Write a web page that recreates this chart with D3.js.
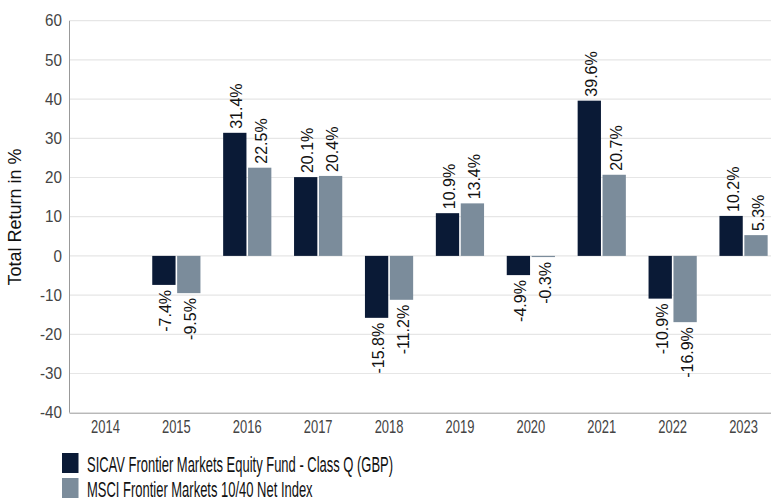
<!DOCTYPE html>
<html>
<head>
<meta charset="utf-8">
<script src="https://cdn.jsdelivr.net/npm/d3@7"></script>
<style>
  body { margin: 0; background: #fff; }
  svg { font-family: Arial, "Liberation Sans", sans-serif; }
</style>
</head>
<body>
<svg id="chart"></svg>
<script>
const years = ['2014', '2015', '2016', '2017', '2018', '2019', '2020', '2021', '2022', '2023'];
const fundValues = [null, -7.4, 31.4, 20.1, -15.8, 10.9, -4.9, 39.6, -10.9, 10.2];
const indexValues = [null, -9.5, 22.5, 20.4, -11.2, 13.4, -0.3, 20.7, -16.9, 5.3];
const seriesNames = ['SICAV Frontier Markets Equity Fund - Class Q (GBP)', 'MSCI Frontier Markets 10/40 Net Index'];
const yTicks = [-40, -30, -20, -10, 0, 10, 20, 30, 40, 50, 60];

const colors = ['#0a1a36', '#7b8c9b'];
const width = 771, height = 499;
const margin = {top: 20.7, left: 70, bottom: 86.3};

const svg = d3.select('#chart').attr('width', width).attr('height', height);

const x = d3.scaleBand().domain(years).range([margin.left, 779]);
const y = d3.scaleLinear().domain([-40, 60]).range([height - margin.bottom, margin.top]);
const barW = 23.3, gap = 1.6;

// gridlines
svg.append('g').selectAll('line')
  .data(yTicks.filter(t => t !== -40))
  .join('line')
  .attr('x1', margin.left).attr('x2', width)
  .attr('y1', d => y(d)).attr('y2', d => y(d))
  .attr('stroke', '#e6e6e6').attr('stroke-width', 1.2);

// y tick labels
svg.append('g').selectAll('text')
  .data(yTicks)
  .join('text')
  .attr('transform', d => `translate(62,${y(d)}) scale(0.95,1)`)
  .attr('dy', '0.36em')
  .attr('text-anchor', 'end')
  .attr('font-size', 16)
  .attr('fill', '#444')
  .text(d => d);

// x tick labels (narrow face)
svg.append('g').selectAll('text')
  .data(years)
  .join('text')
  .attr('transform', d => `translate(${x(d) + x.bandwidth() / 2},433) scale(0.72,1)`)
  .attr('text-anchor', 'middle')
  .attr('font-size', 18)
  .attr('fill', '#444')
  .text(d => d);

// axis title
svg.append('text')
  .attr('transform', `translate(21,217) rotate(-90)`)
  .attr('text-anchor', 'middle')
  .attr('font-size', 18)
  .attr('fill', '#111')
  .text('Total Return in %');

// bars and value labels
const series = [fundValues, indexValues];
series.forEach((vals, si) => {
  const data = years.map((yr, i) => ({year: yr, value: vals[i]})).filter(d => d.value !== null);
  const xOff = si === 0 ? -barW - gap / 2 : gap / 2;
  svg.append('g').selectAll('rect')
    .data(data)
    .join('rect')
    .attr('x', d => x(d.year) + x.bandwidth() / 2 + xOff)
    .attr('width', barW)
    .attr('y', d => y(Math.max(0, d.value)))
    .attr('height', d => Math.abs(y(d.value) - y(0)))
    .attr('fill', colors[si]);

  svg.append('g').selectAll('text')
    .data(data)
    .join('text')
    .attr('transform', d => {
      const cx = x(d.year) + x.bandwidth() / 2 + xOff + barW / 2 + 7.5;
      const cy = d.value >= 0 ? y(d.value) - 4 : y(d.value) + 5;
      return `translate(${cx},${cy}) rotate(-90)`;
    })
    .attr('text-anchor', d => d.value >= 0 ? 'start' : 'end')
    .attr('font-size', 16)
    .attr('fill', '#111')
    .text(d => d.value.toFixed(1) + '%');
});

// axis lines
svg.append('line')
  .attr('x1', margin.left - 0.5).attr('x2', margin.left - 0.5)
  .attr('y1', y(60)).attr('y2', y(-40))
  .attr('stroke', '#999');
svg.append('line')
  .attr('x1', margin.left - 0.5).attr('x2', width)
  .attr('y1', y(-40) + 0.5).attr('y2', y(-40) + 0.5)
  .attr('stroke', '#999');

// legend
const legend = svg.append('g').selectAll('g')
  .data(seriesNames)
  .join('g')
  .attr('transform', (d, i) => `translate(62,${453 + i * 25})`);
legend.append('rect')
  .attr('width', 16.5).attr('height', 20)
  .attr('fill', (d, i) => colors[i]);
legend.append('text')
  .attr('transform', 'translate(25,18.5) scale(0.59,1)')
  .attr('font-size', 22)
  .attr('fill', '#111')
  .text(d => d);
</script>
</body>
</html>
